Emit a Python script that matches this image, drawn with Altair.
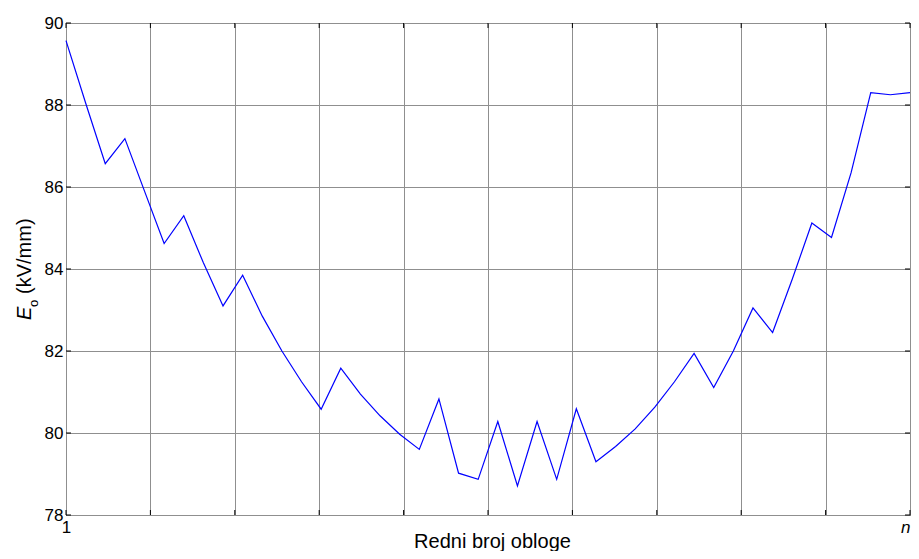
import altair as alt
import pandas as pd

# x: serial number of the insulation layer (1 .. n), y: E_o in kV/mm
layer_idx = list(range(1, 45))
eo_values = [89.57, 88.05, 86.57, 87.18, 85.9, 84.62, 85.3, 84.15, 83.1, 83.85,
             82.85, 82.0, 81.25, 80.58, 81.58, 80.95, 80.42, 79.97, 79.6, 80.83,
             79.02, 78.87, 80.28, 78.71, 80.28, 78.87, 80.59, 79.3, 79.67, 80.1,
             80.63, 81.25, 81.94, 81.11, 82.0, 83.05, 82.45, 83.75, 85.12, 84.77,
             86.35, 88.3, 88.25, 88.3]
y_ticks = [78, 80, 82, 84, 86, 88, 90]
x_grid = [1, 5.3, 9.6, 13.9, 18.2, 22.5, 26.8, 31.1, 35.4, 39.7, 44]
x_title = "Redni broj obloge"
y_title_parts = ["E", "o", "(kV/mm)"]

FONT = "Liberation Sans"
W, H = 844, 492
PAD_L = 58
TL = 5  # inward tick length

xs = alt.Scale(domain=[1, 44], nice=False, zero=False)
ys = alt.Scale(domain=[78, 90], nice=False, zero=False)

df = pd.DataFrame({"i": layer_idx, "eo": eo_values})
dfx = pd.DataFrame({"g": x_grid})
dfy = pd.DataFrame({"v": y_ticks})

line = alt.Chart(df).mark_line(color="#0000ff", strokeWidth=1.2).encode(
    x=alt.X("i:Q", scale=xs,
            axis=alt.Axis(values=x_grid, title=None, ticks=False, domain=False,
                          labelExpr="datum.value == 1 ? '1' : (datum.value == 44 ? 'n' : '')",
                          labelFontStyle={"condition": {"test": "datum.value == 44", "value": "italic"}, "value": "normal"},
                          labelAlign={"condition": {"test": "datum.value == 44", "value": "right"}, "value": "center"},
                          labelFont=FONT, labelFontSize=17, labelColor="#000",
                          labelPadding=4, labelFlush=False, labelOverlap=False,
                          grid=True, gridColor="#8f8f8f", gridWidth=1, gridOpacity=1)),
    y=alt.Y("eo:Q", scale=ys,
            axis=alt.Axis(values=y_ticks, title=None, ticks=False, domain=False,
                          labelFont=FONT, labelFontSize=17, labelColor="#000",
                          labelPadding=3, labelFlush=False, labelOverlap=False,
                          grid=True, gridColor="#8f8f8f", gridWidth=1, gridOpacity=1)),
)

tick_bottom = alt.Chart(dfx).mark_rule(color="#000", strokeWidth=1).encode(
    x=alt.X("g:Q", scale=xs), y=alt.value(H), y2=alt.value(H - TL))
tick_top = alt.Chart(dfx).mark_rule(color="#000", strokeWidth=1).encode(
    x=alt.X("g:Q", scale=xs), y=alt.value(0), y2=alt.value(TL))
tick_left = alt.Chart(dfy).mark_rule(color="#000", strokeWidth=1).encode(
    y=alt.Y("v:Q", scale=ys), x=alt.value(0), x2=alt.value(TL))
tick_right = alt.Chart(dfy).mark_rule(color="#000", strokeWidth=1).encode(
    y=alt.Y("v:Q", scale=ys), x=alt.value(W), x2=alt.value(W - TL))

xt = alt.Chart(pd.DataFrame({"t": [x_title]})).mark_text(
    font=FONT, fontSize=20, color="#000", align="center", baseline="alphabetic"
).encode(text="t:N", x=alt.value(492.5 - 8 - PAD_L), y=alt.value(525))

e_part = alt.Chart(pd.DataFrame({"t": [y_title_parts[0]]})).mark_text(
    font=FONT, fontSize=20, fontStyle="italic", color="#000", align="left",
    baseline="alphabetic", angle=270
).encode(text="t:N", x=alt.value(31 - 8 - PAD_L), y=alt.value(297))

o_part = alt.Chart(pd.DataFrame({"t": [y_title_parts[1]]})).mark_text(
    font=FONT, fontSize=13, color="#000", align="left",
    baseline="alphabetic", angle=270
).encode(text="t:N", x=alt.value(38 - 8 - PAD_L), y=alt.value(284))

unit_part = alt.Chart(pd.DataFrame({"t": [y_title_parts[2]]})).mark_text(
    font=FONT, fontSize=20, color="#000", align="left",
    baseline="alphabetic", angle=270
).encode(text="t:N", x=alt.value(31 - 8 - PAD_L), y=alt.value(271))

chart = alt.layer(line, tick_bottom, tick_top, tick_left, tick_right,
                  xt, e_part, o_part, unit_part).properties(
    width=W, height=H,
    autosize=alt.AutoSizeParams(type="none"),
    padding={"left": PAD_L, "top": 15, "right": 1, "bottom": 36},
    background="white",
).configure_view(stroke="#000", strokeWidth=1)

chart.save("out.html", embed_options={"renderer": "svg", "actions": False})
